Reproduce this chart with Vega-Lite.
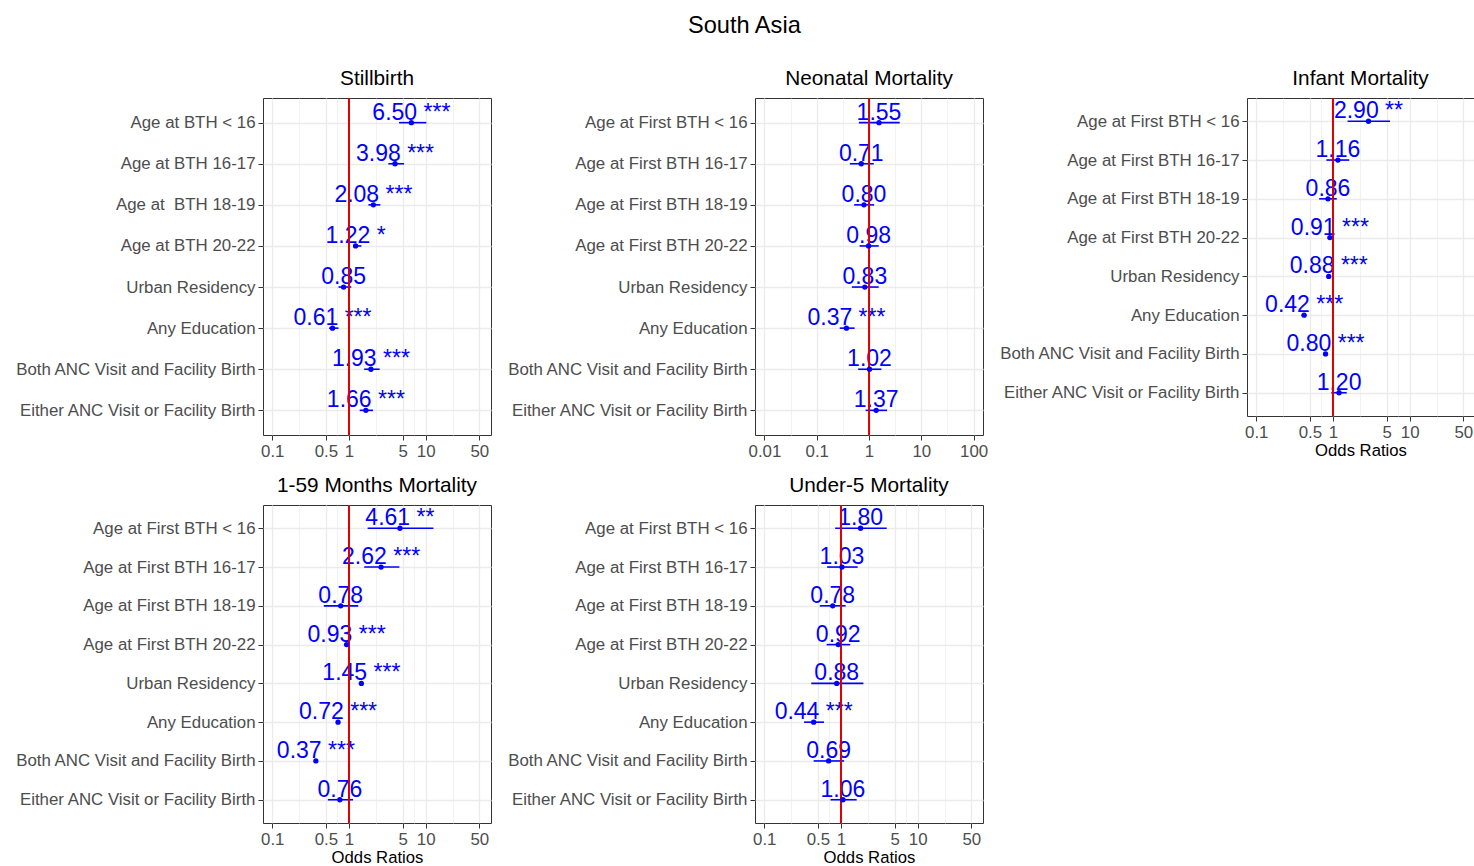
{
  "$schema": "https://vega.github.io/schema/vega-lite/v6.json",
  "padding": {"left": 14, "top": 14, "right": 0, "bottom": 0},
  "title": {"text": "South Asia", "fontSize": 23.6, "frame": "bounds", "anchor": "middle", "offset": 30},
  "datasets": {
    "d": [
      {"p": "SB", "k": 1, "y": "Age at BTH < 16", "or": 6.50, "lo": 4.49, "hi": 10.2, "t": "6.50 ***"},
      {"p": "SB", "k": 2, "y": "Age at BTH 16-17", "or": 3.98, "lo": 3.26, "hi": 5.22, "t": "3.98 ***"},
      {"p": "SB", "k": 3, "y": "Age at\u00a0 BTH 18-19", "or": 2.08, "lo": 1.79, "hi": 2.56, "t": "2.08 ***"},
      {"p": "SB", "k": 4, "y": "Age at BTH 20-22", "or": 1.22, "lo": 1.13, "hi": 1.45, "t": "1.22 *"},
      {"p": "SB", "k": 5, "y": "Urban Residency", "or": 0.85, "lo": 0.73, "hi": 1.07, "t": "0.85\u00a0"},
      {"p": "SB", "k": 6, "y": "Any Education", "or": 0.61, "lo": 0.55, "hi": 0.73, "t": "0.61 ***"},
      {"p": "SB", "k": 7, "y": "Both ANC Visit and Facility Birth", "or": 1.93, "lo": 1.58, "hi": 2.51, "t": "1.93 ***"},
      {"p": "SB", "k": 8, "y": "Either ANC Visit or Facility Birth", "or": 1.66, "lo": 1.38, "hi": 2.06, "t": "1.66 ***"},

      {"p": "NM", "k": 1, "y": "Age at First BTH < 16", "or": 1.55, "lo": 0.64, "hi": 3.85, "t": "1.55\u00a0"},
      {"p": "NM", "k": 2, "y": "Age at First BTH 16-17", "or": 0.71, "lo": 0.43, "hi": 1.23, "t": "0.71\u00a0"},
      {"p": "NM", "k": 3, "y": "Age at First BTH 18-19", "or": 0.80, "lo": 0.52, "hi": 1.25, "t": "0.80\u00a0"},
      {"p": "NM", "k": 4, "y": "Age at First BTH 20-22", "or": 0.98, "lo": 0.66, "hi": 1.53, "t": "0.98\u00a0"},
      {"p": "NM", "k": 5, "y": "Urban Residency", "or": 0.83, "lo": 0.47, "hi": 1.53, "t": "0.83\u00a0"},
      {"p": "NM", "k": 6, "y": "Any Education", "or": 0.37, "lo": 0.275, "hi": 0.53, "t": "0.37 ***"},
      {"p": "NM", "k": 7, "y": "Both ANC Visit and Facility Birth", "or": 1.02, "lo": 0.62, "hi": 1.72, "t": "1.02\u00a0"},
      {"p": "NM", "k": 8, "y": "Either ANC Visit or Facility Birth", "or": 1.37, "lo": 0.86, "hi": 2.21, "t": "1.37\u00a0"},

      {"p": "IM", "k": 1, "y": "Age at First BTH < 16", "or": 2.90, "lo": 1.55, "hi": 5.54, "t": "2.90 **"},
      {"p": "IM", "k": 2, "y": "Age at First BTH 16-17", "or": 1.16, "lo": 0.82, "hi": 1.63, "t": "1.16\u00a0"},
      {"p": "IM", "k": 3, "y": "Age at First BTH 18-19", "or": 0.86, "lo": 0.66, "hi": 1.12, "t": "0.86\u00a0"},
      {"p": "IM", "k": 4, "y": "Age at First BTH 20-22", "or": 0.91, "lo": 0.88, "hi": 0.95, "t": "0.91 ***"},
      {"p": "IM", "k": 5, "y": "Urban Residency", "or": 0.88, "lo": 0.85, "hi": 0.92, "t": "0.88 ***"},
      {"p": "IM", "k": 6, "y": "Any Education", "or": 0.42, "lo": 0.39, "hi": 0.45, "t": "0.42 ***"},
      {"p": "IM", "k": 7, "y": "Both ANC Visit and Facility Birth", "or": 0.80, "lo": 0.77, "hi": 0.83, "t": "0.80 ***"},
      {"p": "IM", "k": 8, "y": "Either ANC Visit or Facility Birth", "or": 1.20, "lo": 0.95, "hi": 1.51, "t": "1.20\u00a0"},

      {"p": "CM", "k": 1, "y": "Age at First BTH < 16", "or": 4.61, "lo": 1.75, "hi": 12.6, "t": "4.61 **"},
      {"p": "CM", "k": 2, "y": "Age at First BTH 16-17", "or": 2.62, "lo": 1.58, "hi": 4.54, "t": "2.62 ***"},
      {"p": "CM", "k": 3, "y": "Age at First BTH 18-19", "or": 0.78, "lo": 0.47, "hi": 1.32, "t": "0.78\u00a0"},
      {"p": "CM", "k": 4, "y": "Age at First BTH 20-22", "or": 0.93, "lo": 0.91, "hi": 0.96, "t": "0.93 ***"},
      {"p": "CM", "k": 5, "y": "Urban Residency", "or": 1.45, "lo": 1.41, "hi": 1.49, "t": "1.45 ***"},
      {"p": "CM", "k": 6, "y": "Any Education", "or": 0.72, "lo": 0.70, "hi": 0.75, "t": "0.72 ***"},
      {"p": "CM", "k": 7, "y": "Both ANC Visit and Facility Birth", "or": 0.37, "lo": 0.36, "hi": 0.38, "t": "0.37 ***"},
      {"p": "CM", "k": 8, "y": "Either ANC Visit or Facility Birth", "or": 0.76, "lo": 0.53, "hi": 1.13, "t": "0.76\u00a0"},

      {"p": "U5", "k": 1, "y": "Age at First BTH < 16", "or": 1.80, "lo": 0.84, "hi": 3.94, "t": "1.80\u00a0"},
      {"p": "U5", "k": 2, "y": "Age at First BTH 16-17", "or": 1.03, "lo": 0.66, "hi": 1.65, "t": "1.03\u00a0"},
      {"p": "U5", "k": 3, "y": "Age at First BTH 18-19", "or": 0.78, "lo": 0.53, "hi": 1.15, "t": "0.78\u00a0"},
      {"p": "U5", "k": 4, "y": "Age at First BTH 20-22", "or": 0.92, "lo": 0.65, "hi": 1.32, "t": "0.92\u00a0"},
      {"p": "U5", "k": 5, "y": "Urban Residency", "or": 0.88, "lo": 0.41, "hi": 1.96, "t": "0.88\u00a0"},
      {"p": "U5", "k": 6, "y": "Any Education", "or": 0.44, "lo": 0.33, "hi": 0.60, "t": "0.44 ***"},
      {"p": "U5", "k": 7, "y": "Both ANC Visit and Facility Birth", "or": 0.69, "lo": 0.44, "hi": 1.10, "t": "0.69\u00a0"},
      {"p": "U5", "k": 8, "y": "Either ANC Visit or Facility Birth", "or": 1.06, "lo": 0.73, "hi": 1.60, "t": "1.06\u00a0"}
    ]
  },
  "columns": 3,
  "bounds": "flush",
  "spacing": {"row": 70, "column": 264},
  "concat": [
    {
      "title": {"text": "Stillbirth"},
      "width": 228, "height": 337,
      "data": {"name": "d"},
      "transform": [{"filter": "datum.p == 'SB'"}],
      "layer": [
        {"mark": {"type": "rule", "color": "#0000ff", "strokeWidth": 1.6},
         "encoding": {
           "y": {"field": "y", "type": "nominal", "sort": {"field": "k"}, "title": null, "scale": {"type": "point", "padding": 0.6}},
           "x": {"field": "lo", "type": "quantitative", "title": null,
                 "scale": {"type": "log", "domain": [0.0757, 71], "nice": false},
                 "axis": {"values": [0.1, 0.2236, 0.5, 0.7071, 1, 2.236, 5, 7.071, 10, 22.36, 50], "format": "~g", "labelFlush": false, "labelOverlap": false,
                          "labelExpr": "(datum.value==0.1||datum.value==0.5||datum.value==1||datum.value==5||datum.value==10||datum.value==50) ? datum.label : ''",
                          "tickOpacity": {"condition": {"test": "datum.value==0.1||datum.value==0.5||datum.value==1||datum.value==5||datum.value==10||datum.value==50", "value": 1}, "value": 0},
                          "gridWidth": {"condition": {"test": "datum.value==0.1||datum.value==0.5||datum.value==1||datum.value==5||datum.value==10||datum.value==50", "value": 1.3}, "value": 0.65}}},
           "x2": {"field": "hi"}}},
        {"mark": {"type": "text", "color": "#0000ff", "fontSize": 23, "baseline": "alphabetic", "dy": -3},
         "encoding": {
           "y": {"field": "y", "type": "nominal", "sort": {"field": "k"}, "title": null},
           "x": {"field": "or", "type": "quantitative", "title": null},
           "text": {"field": "t"}}},
        {"data": {"values": [{"v": 1}]},
         "mark": {"type": "rule", "color": "#dd0000", "strokeWidth": 2},
         "encoding": {"x": {"field": "v", "type": "quantitative", "title": null}}},
        {"mark": {"type": "circle", "color": "#0000ff", "opacity": 1, "size": 28},
         "encoding": {
           "y": {"field": "y", "type": "nominal", "sort": {"field": "k"}, "title": null},
           "x": {"field": "or", "type": "quantitative", "title": null}}}
      ]
    },
    {
      "title": {"text": "Neonatal Mortality"},
      "width": 228, "height": 337,
      "data": {"name": "d"},
      "transform": [{"filter": "datum.p == 'NM'"}],
      "layer": [
        {"mark": {"type": "rule", "color": "#0000ff", "strokeWidth": 1.6},
         "encoding": {
           "y": {"field": "y", "type": "nominal", "sort": {"field": "k"}, "title": null, "scale": {"type": "point", "padding": 0.6}},
           "x": {"field": "lo", "type": "quantitative", "title": null,
                 "scale": {"type": "log", "domain": [0.0066, 151], "nice": false},
                 "axis": {"values": [0.01, 0.03162, 0.1, 0.3162, 1, 3.162, 10, 31.62, 100], "format": "~g", "labelFlush": false, "labelOverlap": false,
                          "labelExpr": "(datum.value==0.01||datum.value==0.1||datum.value==1||datum.value==10||datum.value==100) ? datum.label : ''",
                          "tickOpacity": {"condition": {"test": "datum.value==0.01||datum.value==0.1||datum.value==1||datum.value==10||datum.value==100", "value": 1}, "value": 0},
                          "gridWidth": {"condition": {"test": "datum.value==0.01||datum.value==0.1||datum.value==1||datum.value==10||datum.value==100", "value": 1.3}, "value": 0.65}}},
           "x2": {"field": "hi"}}},
        {"mark": {"type": "text", "color": "#0000ff", "fontSize": 23, "baseline": "alphabetic", "dy": -3},
         "encoding": {
           "y": {"field": "y", "type": "nominal", "sort": {"field": "k"}, "title": null},
           "x": {"field": "or", "type": "quantitative", "title": null},
           "text": {"field": "t"}}},
        {"data": {"values": [{"v": 1}]},
         "mark": {"type": "rule", "color": "#dd0000", "strokeWidth": 2},
         "encoding": {"x": {"field": "v", "type": "quantitative", "title": null}}},
        {"mark": {"type": "circle", "color": "#0000ff", "opacity": 1, "size": 28},
         "encoding": {
           "y": {"field": "y", "type": "nominal", "sort": {"field": "k"}, "title": null},
           "x": {"field": "or", "type": "quantitative", "title": null}}}
      ]
    },
    {
      "title": {"text": "Infant Mortality"},
      "width": 227, "height": 318,
      "data": {"name": "d"},
      "transform": [{"filter": "datum.p == 'IM'"}],
      "layer": [
        {"mark": {"type": "rule", "color": "#0000ff", "strokeWidth": 1.6},
         "encoding": {
           "y": {"field": "y", "type": "nominal", "sort": {"field": "k"}, "title": null, "scale": {"type": "point", "padding": 0.6}},
           "x": {"field": "lo", "type": "quantitative", "title": "Odds Ratios",
                 "scale": {"type": "log", "domain": [0.0757, 68.9], "nice": false},
                 "axis": {"values": [0.1, 0.2236, 0.5, 0.7071, 1, 2.236, 5, 7.071, 10, 22.36, 50], "format": "~g", "labelFlush": false, "labelOverlap": false,
                          "labelExpr": "(datum.value==0.1||datum.value==0.5||datum.value==1||datum.value==5||datum.value==10||datum.value==50) ? datum.label : ''",
                          "tickOpacity": {"condition": {"test": "datum.value==0.1||datum.value==0.5||datum.value==1||datum.value==5||datum.value==10||datum.value==50", "value": 1}, "value": 0},
                          "gridWidth": {"condition": {"test": "datum.value==0.1||datum.value==0.5||datum.value==1||datum.value==5||datum.value==10||datum.value==50", "value": 1.3}, "value": 0.65}}},
           "x2": {"field": "hi"}}},
        {"mark": {"type": "text", "color": "#0000ff", "fontSize": 23, "baseline": "alphabetic", "dy": -3},
         "encoding": {
           "y": {"field": "y", "type": "nominal", "sort": {"field": "k"}, "title": null},
           "x": {"field": "or", "type": "quantitative", "title": "Odds Ratios"},
           "text": {"field": "t"}}},
        {"data": {"values": [{"v": 1}]},
         "mark": {"type": "rule", "color": "#dd0000", "strokeWidth": 2},
         "encoding": {"x": {"field": "v", "type": "quantitative", "title": "Odds Ratios"}}},
        {"mark": {"type": "circle", "color": "#0000ff", "opacity": 1, "size": 28},
         "encoding": {
           "y": {"field": "y", "type": "nominal", "sort": {"field": "k"}, "title": null},
           "x": {"field": "or", "type": "quantitative", "title": "Odds Ratios"}}}
      ]
    },
    {
      "title": {"text": "1-59 Months Mortality"},
      "width": 228, "height": 318,
      "data": {"name": "d"},
      "transform": [{"filter": "datum.p == 'CM'"}],
      "layer": [
        {"mark": {"type": "rule", "color": "#0000ff", "strokeWidth": 1.6},
         "encoding": {
           "y": {"field": "y", "type": "nominal", "sort": {"field": "k"}, "title": null, "scale": {"type": "point", "padding": 0.6}},
           "x": {"field": "lo", "type": "quantitative", "title": "Odds Ratios",
                 "scale": {"type": "log", "domain": [0.0757, 71], "nice": false},
                 "axis": {"values": [0.1, 0.2236, 0.5, 0.7071, 1, 2.236, 5, 7.071, 10, 22.36, 50], "format": "~g", "labelFlush": false, "labelOverlap": false,
                          "labelExpr": "(datum.value==0.1||datum.value==0.5||datum.value==1||datum.value==5||datum.value==10||datum.value==50) ? datum.label : ''",
                          "tickOpacity": {"condition": {"test": "datum.value==0.1||datum.value==0.5||datum.value==1||datum.value==5||datum.value==10||datum.value==50", "value": 1}, "value": 0},
                          "gridWidth": {"condition": {"test": "datum.value==0.1||datum.value==0.5||datum.value==1||datum.value==5||datum.value==10||datum.value==50", "value": 1.3}, "value": 0.65}}},
           "x2": {"field": "hi"}}},
        {"mark": {"type": "text", "color": "#0000ff", "fontSize": 23, "baseline": "alphabetic", "dy": -3},
         "encoding": {
           "y": {"field": "y", "type": "nominal", "sort": {"field": "k"}, "title": null},
           "x": {"field": "or", "type": "quantitative", "title": "Odds Ratios"},
           "text": {"field": "t"}}},
        {"data": {"values": [{"v": 1}]},
         "mark": {"type": "rule", "color": "#dd0000", "strokeWidth": 2},
         "encoding": {"x": {"field": "v", "type": "quantitative", "title": "Odds Ratios"}}},
        {"mark": {"type": "circle", "color": "#0000ff", "opacity": 1, "size": 28},
         "encoding": {
           "y": {"field": "y", "type": "nominal", "sort": {"field": "k"}, "title": null},
           "x": {"field": "or", "type": "quantitative", "title": "Odds Ratios"}}}
      ]
    },
    {
      "title": {"text": "Under-5 Mortality"},
      "width": 228, "height": 318,
      "data": {"name": "d"},
      "transform": [{"filter": "datum.p == 'U5'"}],
      "layer": [
        {"mark": {"type": "rule", "color": "#0000ff", "strokeWidth": 1.6},
         "encoding": {
           "y": {"field": "y", "type": "nominal", "sort": {"field": "k"}, "title": null, "scale": {"type": "point", "padding": 0.6}},
           "x": {"field": "lo", "type": "quantitative", "title": "Odds Ratios",
                 "scale": {"type": "log", "domain": [0.0757, 71], "nice": false},
                 "axis": {"values": [0.1, 0.2236, 0.5, 0.7071, 1, 2.236, 5, 7.071, 10, 22.36, 50], "format": "~g", "labelFlush": false, "labelOverlap": false,
                          "labelExpr": "(datum.value==0.1||datum.value==0.5||datum.value==1||datum.value==5||datum.value==10||datum.value==50) ? datum.label : ''",
                          "tickOpacity": {"condition": {"test": "datum.value==0.1||datum.value==0.5||datum.value==1||datum.value==5||datum.value==10||datum.value==50", "value": 1}, "value": 0},
                          "gridWidth": {"condition": {"test": "datum.value==0.1||datum.value==0.5||datum.value==1||datum.value==5||datum.value==10||datum.value==50", "value": 1.3}, "value": 0.65}}},
           "x2": {"field": "hi"}}},
        {"mark": {"type": "text", "color": "#0000ff", "fontSize": 23, "baseline": "alphabetic", "dy": -3},
         "encoding": {
           "y": {"field": "y", "type": "nominal", "sort": {"field": "k"}, "title": null},
           "x": {"field": "or", "type": "quantitative", "title": "Odds Ratios"},
           "text": {"field": "t"}}},
        {"data": {"values": [{"v": 1}]},
         "mark": {"type": "rule", "color": "#dd0000", "strokeWidth": 2},
         "encoding": {"x": {"field": "v", "type": "quantitative", "title": "Odds Ratios"}}},
        {"mark": {"type": "circle", "color": "#0000ff", "opacity": 1, "size": 28},
         "encoding": {
           "y": {"field": "y", "type": "nominal", "sort": {"field": "k"}, "title": null},
           "x": {"field": "or", "type": "quantitative", "title": "Odds Ratios"}}}
      ]
    }
  ],
  "config": {
    "font": "Liberation Sans",
    "view": {"stroke": "#333333", "strokeWidth": 1},
    "axis": {"domain": false, "grid": true, "gridColor": "#ebebeb", "gridWidth": 1.3, "tickColor": "#333333", "tickSize": 5, "tickWidth": 1,
             "labelColor": "#4d4d4d", "labelFontSize": 16.85, "labelFont": "Liberation Sans", "titleFont": "Liberation Sans", "titleFontSize": 16.7,
             "titleFontWeight": "normal", "titleColor": "#000000", "labelPadding": 3, "titlePadding": 2},
    "axisY": {"labelPadding": 3, "labelLimit": 400},
    "title": {"font": "Liberation Sans", "fontWeight": "normal", "color": "#000000", "fontSize": 20.8, "offset": 7, "frame": "group"}
  }
}
